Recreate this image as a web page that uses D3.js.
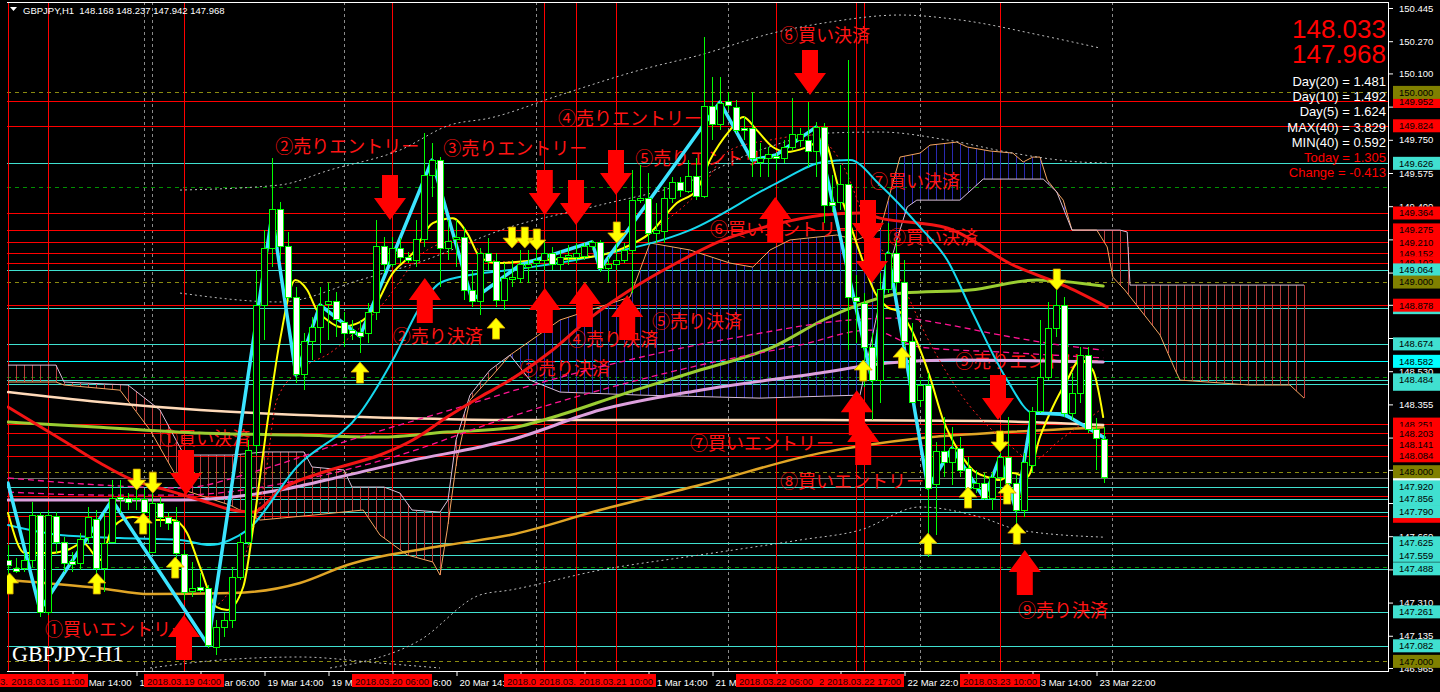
<!DOCTYPE html>
<html><head><meta charset="utf-8">
<script src="https://cdn.jsdelivr.net/npm/d3@7"></script>
<style>
html,body{margin:0;padding:0;background:#000;overflow:hidden}
svg{display:block}
</style></head><body>
<svg id="c" width="1440" height="692"></svg>
<script>
// ---------------- DATA ----------------
const symbolTitle = "GBPJPY,H1  148.168 148.237 147.942 147.968";
const chartName = "GBPJPY-H1";
// OHLC per H1 bar, bar 0 = 2018.03.16 06:00
const ohlc = [
[147.534,147.613,147.429,147.508],[147.492,147.545,147.466,147.476],[147.492,147.571,147.471,147.534],[147.534,147.840,147.497,147.771],
[147.771,147.787,147.234,147.260],[147.260,147.798,147.244,147.771],[147.766,147.787,147.571,147.629],[147.629,147.655,147.471,147.518],
[147.524,147.576,147.471,147.513],[147.518,147.676,147.481,147.640],[147.655,147.814,147.624,147.756],[147.750,147.798,147.444,147.492],
[147.492,147.782,147.365,147.624],[147.629,147.956,147.624,147.861],[147.866,147.956,147.782,147.856],[147.861,147.887,147.798,147.840],
[147.851,147.903,147.798,147.861],[147.851,147.903,147.692,147.787],[147.576,147.893,147.571,147.835],[147.835,147.866,147.708,147.761],
[147.756,147.787,147.692,147.729],[147.735,147.814,147.534,147.571],[147.566,147.587,147.323,147.365],[147.371,147.524,147.339,147.386],
[147.392,147.466,147.360,147.376],[147.386,147.402,147.070,147.086],[147.075,147.218,147.033,147.176],[147.176,147.255,147.128,147.213],
[147.213,147.497,147.176,147.444],[147.444,147.671,147.429,147.629],[147.629,148.167,147.613,148.114],[148.140,149.063,148.088,148.879],
[148.879,149.274,148.694,149.179],[149.179,149.654,149.079,149.380],[149.380,149.422,149.116,149.185],[149.185,149.264,148.905,148.921],
[148.921,148.974,148.467,148.510],[148.510,148.731,148.430,148.689],[148.689,148.815,148.589,148.763],[148.763,148.974,148.626,148.879],
[148.884,148.995,148.694,148.895],[148.895,148.947,148.710,148.800],[148.789,148.842,148.657,148.731],[148.742,148.800,148.694,148.731],
[148.736,148.800,148.626,148.715],[148.731,148.889,148.678,148.837],[148.837,149.327,148.800,149.190],[149.190,149.237,149.047,149.095],
[149.095,149.237,149.079,149.179],[149.179,149.232,149.100,149.132],[149.132,149.158,149.100,149.116],[149.116,149.327,149.079,149.222],
[149.222,149.786,149.185,149.564],[149.564,149.733,149.448,149.643],[149.643,149.659,148.974,149.179],[149.179,149.327,149.116,149.216],
[149.222,149.327,149.079,149.237],[149.237,149.290,148.905,148.958],[148.953,149.063,148.868,148.895],[148.895,149.179,148.826,149.153],
[149.153,149.232,149.063,149.106],[149.106,149.153,148.868,148.905],[148.905,149.100,148.852,149.021],[149.011,149.116,148.974,149.026],
[149.021,149.169,148.995,149.090],[149.079,149.169,148.995,149.095],[149.100,149.185,149.063,149.116],[149.116,149.222,149.063,149.153],
[149.153,149.185,149.063,149.090],[149.090,149.169,149.063,149.132],[149.127,149.195,149.090,149.142],[149.132,149.206,149.100,149.153],
[149.137,149.206,149.116,149.185],[149.185,149.222,149.169,149.211],[149.206,149.222,149.053,149.069],[149.069,149.132,149.000,149.090],
[149.090,149.206,149.063,149.116],[149.116,149.206,149.100,149.169],[149.169,149.591,148.942,149.432],[149.432,149.617,149.417,149.443],
[149.443,149.575,149.206,149.258],[149.258,149.417,149.206,149.274],[149.264,149.501,149.206,149.438],[149.438,149.554,149.417,149.527],
[149.527,149.554,149.448,149.485],[149.480,149.643,149.469,149.554],[149.554,149.654,149.432,149.453],[149.453,150.292,149.443,149.928],
[149.928,150.081,149.749,149.833],[149.833,150.081,149.801,149.944],[149.954,150.002,149.907,149.933],[149.923,149.960,149.786,149.801],
[149.812,149.870,149.749,149.801],[149.812,150.002,149.554,149.649],[149.633,149.733,149.554,149.654],[149.654,149.712,149.554,149.670],
[149.664,149.680,149.591,149.649],[149.649,149.749,149.628,149.707],[149.707,149.970,149.696,149.780],[149.749,149.812,149.712,149.780],
[149.749,149.949,149.606,149.686],[149.686,149.844,149.554,149.817],[149.817,149.838,149.311,149.406],[149.422,149.564,149.369,149.406],
[149.417,149.617,149.380,149.512],[149.512,150.171,148.641,148.916],[148.921,149.037,148.678,148.895],[148.889,148.942,148.446,148.657],
[148.657,148.731,148.272,148.483],[148.483,149.047,148.362,148.963],[148.963,149.311,148.942,149.153],[149.153,149.222,148.942,149.000],
[149.000,149.116,148.657,148.684],[148.684,148.784,148.362,148.367],[148.378,148.483,148.341,148.457],[148.457,148.520,147.550,147.914],
[147.930,148.156,147.666,148.104],[148.104,148.288,147.972,148.046],[148.046,148.235,147.930,148.125],[148.125,148.183,147.972,148.009],
[148.019,148.077,147.866,147.914],[147.914,148.009,147.887,147.940],[147.940,147.993,147.851,147.861],[147.861,147.998,147.798,147.972],
[147.972,148.098,147.903,148.077],[148.077,148.288,147.866,147.940],[147.940,147.982,147.708,147.798],[147.798,148.098,147.761,148.046],
[148.035,148.341,147.993,148.315],[148.315,148.800,148.309,148.499],[148.499,148.895,148.483,148.757],[148.757,148.958,148.710,148.879],
[148.879,148.921,148.288,148.309],[148.309,148.520,148.272,148.415],[148.415,148.657,148.362,148.615],[148.615,148.657,148.204,148.220],
[148.220,148.283,148.009,148.177],[148.168,148.237,147.942,147.968]
];
const priceTicks = [150.445,150.270,150.100,149.925,149.750,149.575,149.400,149.225,149.050,148.880,148.705,148.530,148.355,148.180,148.010,147.835,147.660,147.485,147.310,147.135,146.965];
const timeTickIdx = [8,16,24,32,40,48,56,64,72,80,88,96,104,112,120,128,136];
const timeTickLabels = ["16 Mar 14:00","16 Mar 22:00","19 Mar 06:00","19 Mar 14:00","19 Mar 22:00","20 Mar 06:00","20 Mar 14:00","20 Mar 22:00","21 Mar 06:00","21 Mar 14:00","21 Mar 22:00","22 Mar 06:00","22 Mar 14:00","22 Mar 22:00","23 Mar 06:00","23 Mar 14:00","23 Mar 22:00"];
const daySeparators = [17,18,42,66,90,114,138];
const markerIdx = [0,5,22,48,67,71,76,96,106,107,124];
const markerLabels = ["2018.03.16 06:00","2018.03.16 11:00","2018.03.19 04:00","2018.03.20 06:00","2018.03.21 01:00","2018.03.21 05:00","2018.03.21 10:00","2018.03.22 06:00","2018.03.22 16:00","2018.03.22 17:00","2018.03.23 10:00"];
const redLevels = [149.952,149.824,149.364,149.275,149.210,149.152,149.102,148.878,148.251,148.203,148.141,148.084,147.870,147.765];
const cyanLevels = [149.626,149.064,148.674,148.484,147.920,147.856,147.790,147.625,147.559,147.488,147.261,147.082];
const cyanLevelsUnder = [148.865,148.461];
const aquaLevels = [148.582];
const roundLevels = [150.000,149.000,148.000,147.000];
const halfLevels = [149.500,148.500,147.500];
const bidPrice = 147.968;
// indicator lines [bar index, price]
const zigzagCyan = [[0,147.940],[4,147.271],[13,147.851],[25,147.086],[33,149.353],[36,148.510],[39,148.879],[44,148.715],[53,149.643],[58,148.905],[64,149.090],[73,149.211],[74,149.069],[89,149.949],[93,149.643],[96,149.670],[101,149.817],[108,148.483],[110,149.153],[115,147.914],[118,148.125],[122,147.861],[124,148.077],[126,147.798],[128,148.309],[132,148.304],[137,148.180]];
const maCyan = [[0,147.719],[6.5,147.666],[14,147.650],[21.5,147.640],[25.25,147.613],[27.75,147.640],[29.9,147.692],[36.1,148.025],[44,148.309],[48.1,148.589],[51.5,148.868],[54,148.995],[57.75,149.037],[62.75,149.063],[74,149.142],[85.25,149.274],[96.1,149.522],[101.9,149.633],[105.25,149.643],[109,149.512],[114,149.290],[117.4,149.116],[120.6,148.837],[124.9,148.483],[128.1,148.309],[131.5,148.299],[134.9,148.235],[136.9,148.183]];
const maYellow = [[0,147.782],[2.1,147.571],[5.25,147.571],[7.4,147.587],[9.4,147.624],[11.5,147.534],[13.1,147.708],[15.6,147.761],[17.75,147.745],[20.6,147.745],[22.4,147.676],[24,147.497],[26.1,147.286],[27.4,147.271],[29.4,147.392],[30.6,147.692],[31.9,148.098],[34,148.694],[35.9,149.011],[37.4,148.958],[38.6,148.852],[39.9,148.800],[41.5,148.763],[44,148.789],[45.6,148.852],[48.1,149.047],[50.6,149.153],[53.1,149.311],[55.6,149.337],[57.4,149.258],[59,149.132],[61.1,149.100],[66.5,149.116],[72.75,149.132],[76.9,149.179],[80.25,149.258],[83.6,149.417],[86.1,149.485],[87.75,149.643],[90.25,149.801],[91.9,149.870],[93.6,149.801],[95.6,149.712],[97.4,149.686],[99.9,149.712],[101.9,149.749],[104,149.469],[106.5,149.153],[108.4,148.942],[109.9,148.868],[111.5,148.842],[112.75,148.763],[115.25,148.499],[116.9,148.272],[119,148.098],[120.6,148.009],[122.4,147.972],[124,147.956],[125.6,147.993],[127.4,147.972],[129,148.183],[130.6,148.341],[132.4,148.483],[134,148.589],[135.6,148.536],[136.9,148.288]];
const maRed = [[0,148.341],[7.4,148.151],[11.5,148.046],[15.6,147.956],[19.9,147.903],[24,147.851],[28.1,147.798],[30.6,147.787],[34,147.903],[40.25,148.009],[46.5,148.088],[50.6,148.167],[54.9,148.288],[59,148.394],[62.75,148.483],[67.75,148.631],[72.75,148.810],[77.75,148.958],[83.1,149.090],[89.4,149.222],[95.6,149.301],[101.9,149.353],[106.5,149.364],[109,149.337],[117.4,149.285],[125.6,149.090],[132.4,148.974],[137.4,148.868]];
const maOrange = [[0,147.429],[11.5,147.386],[17.75,147.355],[28.1,147.360],[36.5,147.413],[42.4,147.508],[54.9,147.613],[62.75,147.666],[74,147.798],[86.5,147.930],[101.5,148.098],[114,148.177],[124.9,148.209],[136.9,148.235]];
const maPeach = [[0,148.420],[11.5,148.367],[24,148.325],[36.5,148.299],[49,148.283],[62.75,148.272],[80.25,148.272],[101.5,148.272],[122.4,148.267],[136.9,148.246]];
const maYellowGreen = [[0,148.262],[11.5,148.235],[24,148.204],[36.5,148.193],[46.5,148.183],[54.9,148.209],[62.75,148.230],[69,148.299],[76.5,148.404],[86.5,148.536],[95.6,148.657],[101.9,148.800],[105.6,148.868],[111.9,148.942],[120.25,148.958],[128.6,149.011],[136.9,148.979]];
const maPlum = [[0,147.851],[11.5,147.851],[21.5,147.851],[34,147.903],[42.4,147.982],[50.6,148.061],[59,148.130],[62.75,148.167],[74,148.325],[86.5,148.430],[101.5,148.520],[109.9,148.573],[118.1,148.589],[136.9,148.578]];
const maPink1 = [[0,147.967],[11.5,147.930],[21.5,147.914],[31.5,148.009],[42.75,148.167],[55.25,148.325],[67.75,148.483],[80.25,148.615],[92.75,148.721],[105.25,148.800],[111.5,148.810],[117.75,148.773],[124,148.721],[131.5,148.668],[136.9,148.641]];
const maPink2 = [[0,147.893],[11.5,147.877],[21.5,147.877],[36.5,147.956],[49,148.088],[61.5,148.272],[74,148.430],[86.5,148.562],[99,148.668],[107.75,148.747],[114,148.657],[124,148.631],[136.9,148.600]];
const maRedDotted = [[25.25,147.271],[27.75,147.376],[30.25,147.640],[32.1,147.956],[33.6,148.378],[36.5,148.536],[40.25,148.626],[46.5,148.868],[52.4,149.169],[56.5,149.222],[61.5,149.106],[69,149.127],[76.5,149.169],[81.5,149.301],[86.5,149.485],[90.25,149.696],[95.25,149.749],[100.25,149.775],[104,149.643],[107.75,149.274],[111.1,149.047],[115.25,148.678],[119,148.415],[124.9,148.151],[128.1,148.061],[131.5,148.167],[136.5,148.325]];
const bandUpper3 = [[21.5,149.485],[34,149.512],[40.25,149.591],[49,149.696],[55.25,149.828],[60.25,149.865],[69,149.986],[79,150.118],[86.5,150.197],[95.6,150.313],[102.75,150.371],[111.5,150.408],[119,150.382],[129,150.302],[136.5,150.234]];
const bandUpper2 = [[21.5,148.942],[34,148.895],[44,149.011],[51.5,149.106],[62.75,149.290],[74,149.406],[84,149.512],[94,149.696],[102.75,149.786],[109,149.791],[117.4,149.749],[125.6,149.680],[134,149.633],[137.4,149.628]];
const bandLower2 = [[40.25,146.965],[51.5,147.112],[59,147.350],[62.75,147.376],[74,147.481],[86.5,147.561],[99,147.640],[106.5,147.692],[114,147.814],[121.5,147.761],[126.5,147.692],[136.9,147.655]];
const bandLower3 = [[17.75,146.965],[26.5,147.007],[36.5,147.023],[46.5,146.991],[54,146.965]];
const spanThistle = [[0,148.562],[6,148.562],[7,148.473],[15,148.457],[19,148.325],[21,148.167],[22,148.088],[28,148.088],[32,148.104],[37,148.104],[38,148.025],[42,148.009],[43,147.919],[47,147.919],[49,147.887],[50.5,147.798],[54,147.787],[55,147.851],[56,148.167],[57.75,148.404],[60.25,148.536],[62.75,148.615],[65.25,148.483],[69,148.420],[79,148.404],[94,148.388],[106.5,148.404],[109,148.905],[111.1,149.222],[112.4,149.396],[113.6,149.432],[119,149.432],[121.9,149.543],[129.4,149.543],[131.1,149.475],[133,149.274],[139,149.274],[139.9,149.264],[140.25,148.984],[162,148.984]];
const spanSandy = [[0,148.473],[6,148.473],[7,148.457],[14,148.430],[17.75,148.220],[22,147.903],[27.75,147.824],[31.5,147.745],[38.1,147.771],[44.4,147.798],[46.5,147.666],[49.9,147.561],[53.1,147.524],[54,147.455],[54.9,147.692],[56.1,148.061],[57.75,148.378],[60.6,148.510],[62.75,148.615],[69,148.800],[77.75,148.921],[80.25,149.206],[85.25,149.169],[90.25,149.100],[93.1,149.079],[95.25,149.169],[97.75,149.222],[103.6,149.248],[106.1,149.222],[109,149.274],[111.5,149.659],[114,149.680],[115.25,149.722],[118.6,149.738],[119.9,149.712],[122.75,149.691],[125.6,149.680],[126.9,149.633],[128.1,149.659],[129,149.659],[129.9,149.538],[131.9,149.432],[133,149.274],[136.1,149.274],[137.4,149.185],[138.1,149.026],[139.6,148.958],[144,148.721],[145.9,148.536],[146.5,148.483],[155.25,148.457],[160.25,148.457],[162,148.388]];
// arrows [bar index, tip price]
const redDownArrows = [[22.25,147.877],[47.75,149.327],[67.1,149.353],[71,149.301],[76,149.459],[100.25,149.986],[107.5,149.195],[108,148.995],[123.75,148.272]];
const redUpArrows = [[22,147.244],[52.1,149.021],[67.1,148.968],[72.1,149.000],[77.4,148.932],[95.9,149.448],[106.1,148.430],[106.9,148.272],[127.1,147.587]];
const yellowUpArrows = [[0.2,147.466],[11.1,147.466],[16.9,147.782],[20.9,147.550],[44,148.578],[61,148.810],[106.9,148.589],[111.75,148.657],[115,147.676],[120,147.919],[124.9,147.940],[126.1,147.729]];
const yellowDownArrows = [[16.1,147.903],[18.1,147.887],[63,149.179],[64.6,149.179],[66.1,149.169],[76.1,149.206],[124,148.104],[131.1,148.958]];
// annotations [bar index of left edge, price of centre, text]
const notes = [
[4.625,147.176,"①買いエントリー"],[19,148.183,"①買い決済"],[33.4,149.722,"②売りエントリー"],[54.4,149.712,"③売りエントリー"],
[48.1,148.721,"②売り決済"],[64,148.552,"③売り決済"],[68.75,149.870,"④売りエントリー"],[70,148.705,"④売り決済"],
[78.4,149.659,"⑤売りエントリー"],[80.5,148.800,"⑤売り決済"],[96.5,150.308,"⑥買い決済"],[87.75,149.285,"⑥買いエントリー"],
[107.75,149.538,"⑦買い決済"],[110,149.243,"⑧買い決済"],[85.25,148.156,"⑦買いエントリー"],[96.5,147.956,"⑧買いエントリー"],
[118.4,148.589,"⑨売りエントリー"],[126.25,147.276,"⑨売り決済"]
];
const infoBig = ["148.033","147.968"];
const infoLines = ["Day(20) = 1.481","Day(10) = 1.492","Day(5) = 1.624","MAX(40) = 3.829","MIN(40) = 0.592","Today = 1.305","Change = -0.413"];
const infoRedFrom = 5;

// ---------------- DRAW ----------------
const W = 1440, H = 692, axisX = 1388, axisY = 671;
const FONT = "'Liberation Sans', Arial, sans-serif";
const x = d3.scaleLinear().domain([0,172]).range([8,1384]);
const y = d3.scaleLinear().domain([146.965,150.445]).range([668,8]);
const svg = d3.select("#c");
svg.append("rect").attr("width",W).attr("height",H).attr("fill","#000");
svg.append("defs").append("clipPath").attr("id","plot")
  .append("rect").attr("x",7).attr("y",2).attr("width",axisX-7).attr("height",axisY-2);
const g = svg.append("g").attr("clip-path","url(#plot)");
const crisp = sel => sel.attr("shape-rendering","crispEdges");

// day separators
g.selectAll(".sep").data(daySeparators).join("line")
  .attr("x1",d=>Math.round(x(d))+0.5).attr("x2",d=>Math.round(x(d))+0.5).attr("y1",2).attr("y2",axisY)
  .attr("stroke","#8a8a8a").attr("stroke-dasharray","3,3").call(crisp);

// horizontal levels
function hlines(data, color, dash, w){
  g.append("g").selectAll("line").data(data).join("line")
    .attr("x1",7).attr("x2",axisX).attr("y1",d=>Math.round(y(d))+0.5).attr("y2",d=>Math.round(y(d))+0.5)
    .attr("stroke",color).attr("stroke-width",w||1).attr("stroke-dasharray",dash||null).call(crisp);
}
hlines(halfLevels,"#009000","4,4");
hlines(roundLevels,"#8a8a10","4,4");
hlines([bidPrice],"#707070");
hlines(cyanLevelsUnder,"#40E0D0");
hlines(cyanLevels,"#40E0D0");
hlines(aquaLevels,"#00FFFF");
hlines(redLevels,"#FF0000");

// vertical time markers
g.append("g").selectAll("line").data(markerIdx).join("line")
  .attr("x1",d=>Math.round(x(d))+0.5).attr("x2",d=>Math.round(x(d))+0.5).attr("y1",2).attr("y2",axisY)
  .attr("stroke","#FF0000").call(crisp);

// ichimoku cloud
const sA = d3.scaleLinear().domain(spanSandy.map(d=>d[0])).range(spanSandy.map(d=>d[1])).clamp(true);
const sB = d3.scaleLinear().domain(spanThistle.map(d=>d[0])).range(spanThistle.map(d=>d[1])).clamp(true);
const hatch = d3.range(0,163);
g.append("g").selectAll("line").data(hatch).join("line")
  .attr("x1",d=>x(d)+0.5).attr("x2",d=>x(d)+0.5)
  .attr("y1",d=>y(sA(d))).attr("y2",d=>y(sB(d)))
  .attr("stroke",d=> sB(d) > sA(d) ? "#B83C3C" : "#2A2AB0").attr("stroke-width",1).call(crisp);
const lineGen = d3.line().x(d=>x(d[0])).y(d=>y(d[1]));
g.append("path").datum(spanSandy).attr("d",lineGen).attr("fill","none").attr("stroke","#F4A460").attr("stroke-width",1);
g.append("path").datum(spanThistle).attr("d",lineGen).attr("fill","none").attr("stroke","#D8BFD8").attr("stroke-width",1);

// annotations
g.append("g").selectAll("text").data(notes).join("text")
  .attr("x",d=>x(d[0])).attr("y",d=>y(d[1])).attr("dominant-baseline","central")
  .attr("font-family","'Noto Sans CJK JP', sans-serif").attr("font-size",18).attr("fill","#FF1414")
  .text(d=>d[2]);

// dotted bands
const smooth = d3.line().x(d=>x(d[0])).y(d=>y(d[1])).curve(d3.curveMonotoneX);
function path(data, color, w, dash, gen){
  g.append("path").datum(data).attr("d",(gen||smooth)).attr("fill","none")
   .attr("stroke",color).attr("stroke-width",w).attr("stroke-dasharray",dash||null)
   .attr("stroke-linejoin","round").attr("stroke-linecap", dash? "butt":"round");
}
[bandUpper3,bandUpper2,bandLower2,bandLower3].forEach(b=>path(b,"#BEBEBE",1,"2,3"));

// moving averages
path(maOrange,"#E0A526",2.5);
path(maPeach,"#FFDAB9",2.5);
path(maYellowGreen,"#9ACD32",3);
path(maPlum,"#DDA0DD",3);
path(maPink1,"#FF1493",1.3,"6,4");
path(maPink2,"#FF1493",1.3,"6,4");
path(maRed,"#F21414",3);
path(maRedDotted,"#FF2020",1,"2,3");
path(maCyan,"#16D8EE",2);
path(maYellow,"#FFFF00",2);
path(zigzagCyan,"#3CE4FF",3.5,null,lineGen);

// candles
const cg = g.append("g");
cg.selectAll(".wick").data(ohlc).join("line")
  .attr("x1",(d,i)=>x(i)+0.5).attr("x2",(d,i)=>x(i)+0.5)
  .attr("y1",d=>y(d[1])).attr("y2",d=>y(d[2])).attr("stroke","#00FF00").call(crisp);
cg.selectAll(".body").data(ohlc).join("rect")
  .attr("x",(d,i)=>x(i)-2.5).attr("width",6)
  .attr("y",d=>y(Math.max(d[0],d[3]))).attr("height",d=>Math.max(1,Math.abs(y(d[0])-y(d[3]))))
  .attr("fill",d=> d[3] >= d[0] ? "#000" : "#FFF").attr("stroke","#00FF00").attr("stroke-width",1).call(crisp);

// yellow arrows
function yArrow(up){
  const s = up?1:-1;
  return `M0,0 L9,${10*s} L3.5,${10*s} L3.5,${21*s} L-3.5,${21*s} L-3.5,${10*s} L-9,${10*s} Z`;
}
g.append("g").selectAll("path").data(yellowUpArrows).join("path")
  .attr("transform",d=>`translate(${x(d[0])},${y(d[1])})`).attr("d",yArrow(true))
  .attr("fill","#FFFF00").attr("stroke","#D4A000").attr("stroke-width",0.8);
g.append("g").selectAll("path").data(yellowDownArrows).join("path")
  .attr("transform",d=>`translate(${x(d[0])},${y(d[1])})`).attr("d",yArrow(false))
  .attr("fill","#FFFF00").attr("stroke","#D4A000").attr("stroke-width",0.8);
// red arrows
function rArrow(up){
  const s = up?1:-1;
  return `M0,0 L16,${22*s} L8,${22*s} L8,${45*s} L-8,${45*s} L-8,${22*s} L-16,${22*s} Z`;
}
g.append("g").selectAll("path").data(redUpArrows).join("path")
  .attr("transform",d=>`translate(${x(d[0])},${y(d[1])})`).attr("d",rArrow(true)).attr("fill","#FF0000");
g.append("g").selectAll("path").data(redDownArrows).join("path")
  .attr("transform",d=>`translate(${x(d[0])},${y(d[1])})`).attr("d",rArrow(false)).attr("fill","#FF0000");

// chart name
svg.append("text").attr("x",12).attr("y",661).attr("fill","#FFFFFF")
  .attr("font-family","'Liberation Serif', 'Times New Roman', serif").attr("font-size",22).text(chartName);

// frame
svg.append("line").attr("x1",7).attr("x2",axisX+0.5).attr("y1",2.5).attr("y2",2.5).attr("stroke","#FFF").call(crisp);
svg.append("line").attr("x1",axisX+0.5).attr("x2",axisX+0.5).attr("y1",2).attr("y2",axisY+1).attr("stroke","#FFF").call(crisp);
svg.append("line").attr("x1",7).attr("x2",axisX+1).attr("y1",axisY+0.5).attr("y2",axisY+0.5).attr("stroke","#FFF").call(crisp);

// keep only the characters of a text that are not hidden under given x-intervals
function keepVisible(node, covers, xmin, xmax){
  const s = node.textContent, n = s.length;
  if(!n) return;
  const ctm = node.getCTM();
  const ext = d3.range(n).map(k=>node.getExtentOfChar(k));
  const vis = ext.map(e=>{
    const cx = e.x + e.width/2 + ctm.e;
    if(cx < xmin || cx > xmax) return false;
    return !covers.some(c=> cx > c[0] && cx < c[1]);
  });
  const runs = []; let cur = null;
  vis.forEach((v,k)=>{ if(v){ if(!cur){cur=[k,k]; runs.push(cur);} else cur[1]=k; } else cur=null; });
  const parent = node.parentNode;
  runs.forEach(r=>{
    const t = node.cloneNode(false);
    t.setAttribute("text-anchor","start");
    t.setAttribute("x", ext[r[0]].x);
    t.textContent = s.slice(r[0], r[1]+1);
    parent.appendChild(t);
  });
  node.remove();
}

// price axis
const fmt = d3.format(".3f");
const LFS = 9.5;
const labelOrder = [[cyanLevelsUnder,"#40E0D0"],[[bidPrice],"#FFFFFF"],[redLevels,"#FF0000"],[cyanLevels,"#40E0D0"],[aquaLevels,"#00FFFF"],[roundLevels,"#808000"]];
const allBoxes = [];
labelOrder.forEach(o=>o[0].forEach(v=>allBoxes.push(v)));
const ya = svg.append("g").attr("transform",`translate(${axisX},0)`)
  .call(d3.axisRight(y).tickValues(priceTicks).tickFormat(fmt).tickSize(5).tickSizeOuter(0).tickPadding(6));
ya.select(".domain").remove();
ya.selectAll("line").attr("stroke","#FFF");
ya.selectAll("text").attr("fill","#FFF").attr("font-family",FONT).attr("font-size",LFS);
// tick labels whose middle lies under a coloured price label are hidden by it
ya.selectAll(".tick").filter(d=>allBoxes.some(v=>Math.abs(y(v)-y(d))<6.5)).select("text").remove();

// price labels (later ones are drawn over earlier ones)
const pg = svg.append("g");
allBoxes.forEach((v,k)=>{
  const yy = y(v);
  const bg = labelOrder.find(o=>o[0].includes(v))[1];
  pg.append("rect").attr("x",axisX+5).attr("y",yy-6.5).attr("width",W-axisX-5).attr("height",13).attr("fill",bg);
  const hidden = allBoxes.slice(k+1).some(u=>Math.abs(y(u)-yy)<6.5);
  if(!hidden){
    pg.append("text").attr("x",axisX+11).attr("y",yy+3.4).attr("fill","#000")
      .attr("font-family",FONT).attr("font-size",LFS).text(fmt(v));
  }
});

// time axis
const boxes = markerIdx.map(d=>[x(d)-40, x(d)+40]);
const xa = svg.append("g").attr("transform",`translate(0,${axisY})`)
  .call(d3.axisBottom(x).tickValues(timeTickIdx).tickFormat((d,k)=>timeTickLabels[k]).tickSize(5).tickSizeOuter(0));
xa.select(".domain").remove();
xa.selectAll("line").attr("stroke","#FFF").attr("transform","translate(0.5,0)");
xa.selectAll("text").attr("fill","#FFF").attr("text-anchor","start").attr("x",3).attr("y",8)
  .attr("font-family",FONT).attr("font-size",9.5);
xa.selectAll("text").nodes().forEach(nd=>keepVisible(nd, boxes, 0, axisX));
// marker labels on time axis
const ml = svg.append("g");
markerIdx.forEach((d,k)=>{
  const xx = x(d);
  ml.append("rect").attr("x",xx-40).attr("y",674).attr("width",80).attr("height",13).attr("fill","#FF0000");
  const t = ml.append("text").attr("x",xx).attr("y",684.5).attr("text-anchor","middle").attr("fill","#1a0000")
    .attr("font-family",FONT).attr("font-size",9.5).text(markerLabels[k]);
  keepVisible(t.node(), boxes.slice(k+1), 0, W);
});

// header
svg.append("path").attr("d","M10,7 L17,7 L13.5,11 Z").attr("fill","#FFF");
svg.append("text").attr("x",23).attr("y",14).attr("fill","#FFF").attr("xml:space","preserve")
  .attr("font-family",FONT).attr("font-size",9.5).text(symbolTitle);

// info block
svg.selectAll(".big").data(infoBig).join("text").attr("class","big")
  .attr("x",1386).attr("y",(d,i)=>38+i*25).attr("text-anchor","end").attr("fill","#FF0000")
  .attr("font-family",FONT).attr("font-size",26).text(d=>d);
svg.selectAll(".inf").data(infoLines).join("text").attr("class","inf")
  .attr("x",1386).attr("y",(d,i)=>86+i*15.2).attr("text-anchor","end")
  .attr("fill",(d,i)=> i>=infoRedFrom ? "#FF0000" : "#FFFFFF")
  .attr("font-family",FONT).attr("font-size",13).text(d=>d);
</script></body></html>
